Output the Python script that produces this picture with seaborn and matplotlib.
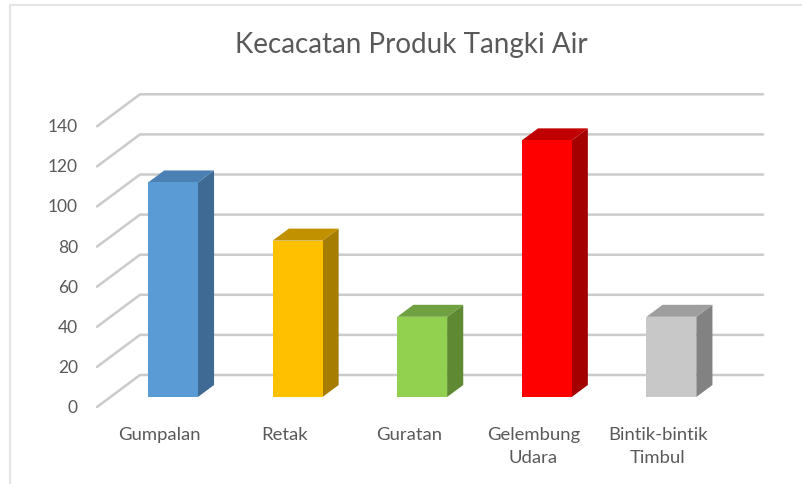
import numpy as np
import pandas as pd
import seaborn as sns
import matplotlib
matplotlib.use("Agg")
import matplotlib.pyplot as plt
from matplotlib.patches import Polygon
from matplotlib.lines import Line2D

# ---- data ----
categories = ["Gumpalan", "Retak", "Guratan", "Gelembung\nUdara", "Bintik-bintik\nTimbul"]
values = [107, 78, 40, 128, 40]
yticks = [0, 20, 40, 60, 80, 100, 120, 140]
title = "Kecacatan Produk Tangki Air"

front_colors = ["#5B9BD5", "#FFC000", "#92D050", "#FF0000", "#C8C8C8"]
side_colors = ["#3E6A93", "#A67D00", "#5F8A33", "#A50000", "#828282"]
top_colors = ["#4A80B3", "#C29100", "#6FA140", "#C00000", "#9E9E9E"]

sns.set_theme(style="white")
plt.rcParams["font.family"] = ["Lato", "DejaVu Sans"]

W, H = 803, 485
fig = plt.figure(figsize=(W / 100, H / 100), dpi=100)

# axes in pixel layout (bar-front plane)
L, R, T, B = 60, 780, 60, 420
ax = fig.add_axes([L / W, 1 - B / H, (R - L) / W, (B - T) / H])
px_per_cat = 124.6
px_per_val = 2.005
x0_px, y0_px = 173, 398

def set_limits():
    ax.set_xlim((L - x0_px) / px_per_cat, (R - x0_px) / px_per_cat)
    ax.set_ylim((y0_px - B) / px_per_val, (y0_px - T) / px_per_val)

# depth vector (front floor edge -> back wall) in data units
D = np.array([43 / px_per_cat, 32 / px_per_val])
f_front = -0.3125   # floor front edge relative to bar front face
f_back_wall = 0.6875
f_bar = 0.375       # bar depth

# bars (front faces)
df = pd.DataFrame({"cat": categories, "val": values})
sns.barplot(data=df, x="cat", y="val", hue="cat", palette=front_colors,
            width=0.4, legend=False, ax=ax, saturation=1, zorder=3,
            edgecolor="none")
set_limits()

dx, dy = f_bar * D
for i, p in enumerate(ax.patches[:len(values)]):
    x, w, h = p.get_x(), p.get_width(), p.get_height()
    side = Polygon([(x + w, 0), (x + w + dx, dy), (x + w + dx, h + dy), (x + w, h)],
                   closed=True, facecolor=side_colors[i], edgecolor="none", zorder=2)
    top = Polygon([(x, h), (x + w, h), (x + w + dx, h + dy), (x + dx, h + dy)],
                  closed=True, facecolor=top_colors[i], edgecolor="none", zorder=2)
    ax.add_patch(side)
    ax.add_patch(top)

# gridlines: slanted floor-side + back wall
front_x_plane = (97 - x0_px) / px_per_cat - f_front * D[0]
back_end_x = (763 - x0_px) / px_per_cat
grid_c = "#CBCBCB"
for v in yticks:
    pf = np.array([front_x_plane, v]) + f_front * D
    pb = np.array([front_x_plane, v]) + f_back_wall * D
    ax.plot([pf[0], pb[0], back_end_x], [pf[1], pb[1], pb[1]],
            color=grid_c, lw=1.8, zorder=1, solid_joinstyle="miter",
            clip_on=False)
    ax.text(pf[0] - 19 / px_per_cat, pf[1], str(v), ha="right", va="center",
            fontsize=12.5, color="#595959", clip_on=False)

# category labels on the front plane
ax.set_xticks(np.arange(len(categories)) + f_front * D[0], labels=categories)
ax.tick_params(axis="x", length=0, pad=5.2, labelsize=13.3, labelcolor="#595959")
for lab in ax.get_xticklabels():
    lab.set_multialignment("center")
    lab.set_linespacing(1.5)
ax.set_yticks([])
ax.set_xlabel("")
ax.set_ylabel("")
for s in ax.spines.values():
    s.set_visible(False)
ax.patch.set_alpha(0)
set_limits()

# title
fig.text(411 / W, 1 - 45 / H, title, ha="center", va="center",
         fontsize=20, color="#595959")

# chart border
fig.add_artist(Line2D([10 / W, 10 / W, 1], [0, 1 - 6 / H, 1 - 6 / H],
                      transform=fig.transFigure, color="#E4E4E4", lw=1.5))

fig.savefig("out.png", dpi=100)
